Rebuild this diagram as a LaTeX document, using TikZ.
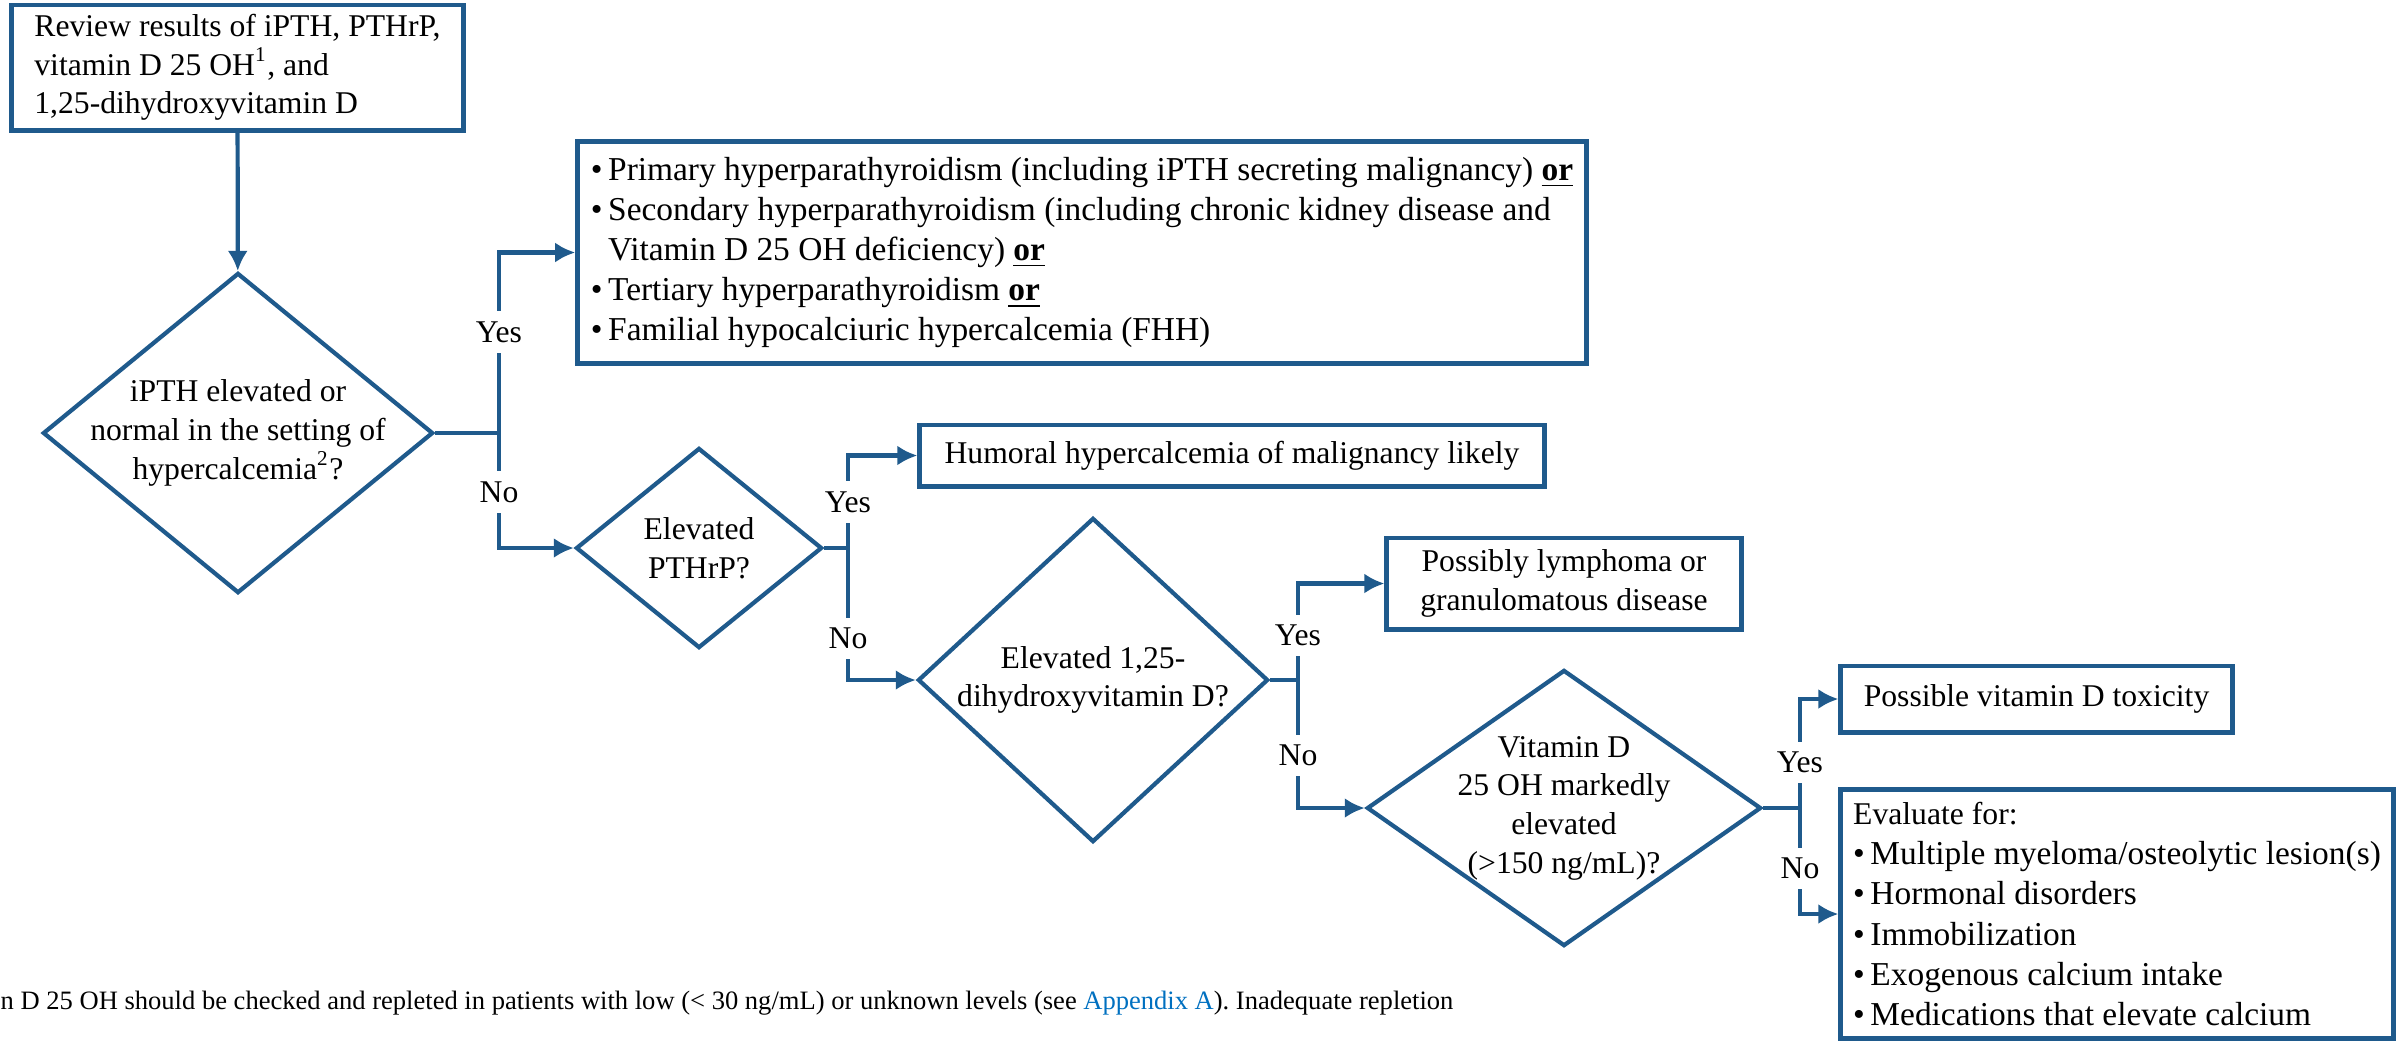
\documentclass[tikz,border=0pt]{standalone}
\usepackage{fontspec}
\setmainfont{Liberation Serif}
\usetikzlibrary{shapes.geometric,arrows.meta}
\definecolor{flowblue}{RGB}{31,90,140}
\definecolor{linkblue}{RGB}{0,112,192}
\newcommand{\uor}{\underline{\textbf{or}}}
\newcommand{\bul}{\textbullet\,}

\begin{document}
\begin{tikzpicture}[x=0.01cm,y=-0.01cm,
    txt/.style={font=\fontsize{9}{11}\selectfont},
    listtxt/.style={font=\fontsize{9.5}{11.4}\selectfont},
    box/.style={txt,draw=flowblue,line width=1.4pt,rectangle,inner sep=0pt},
    query/.style={txt,draw=flowblue,line width=1.2pt,diamond,inner sep=-0.5cm,align=center},
    answer/.style={txt,fill=white,inner sep=0.1cm},
    note/.style={font=\fontsize{7.55}{9.2}\selectfont,inner sep=0pt},
    link/.style={draw=flowblue,line width=1.2pt,-{Latex[length=0.2cm,width=0.2cm]}},
    branch/.style={draw=flowblue,line width=1.2pt}]
  \useasboundingbox (0,0) rectangle (2400,1041);

  \node[box,minimum width=4.51cm,minimum height=1.25cm,align=left] (review) at (237.5,67.5)
    {Review results of iPTH, PTHrP,\\vitamin D 25 OH\textsuperscript{1}, and\\1,25-dihydroxyvitamin D};

  % questions
  \node[query,minimum width=3.9cm,minimum height=3.2cm] (q1) at (238,433)
    {iPTH elevated or\\normal in the setting of\\hypercalcemia\textsuperscript{2}?};
  \node[query,minimum width=2.46cm,minimum height=2cm] (q2) at (699,548)
    {Elevated\\PTHrP?};
  \node[query,minimum width=3.5cm,minimum height=3.24cm] (q3) at (1093,680)
    {Elevated 1,25-\\dihydroxyvitamin D?};
  \node[query,minimum width=3.94cm,minimum height=2.76cm] (q4) at (1564,808)
    {Vitamin D\\25 OH markedly\\elevated\\(>150 ng/mL)?};

  % outcomes
  \node[box,listtxt,minimum width=10.08cm,minimum height=2.21cm,align=left] (res1) at (1082,252.5)
    {\bul Primary hyperparathyroidism (including iPTH secreting malignancy) \uor\\
     \bul Secondary hyperparathyroidism (including chronic kidney disease and\\
     \phantom{\bul}Vitamin D 25 OH deficiency) \uor\\
     \bul Tertiary hyperparathyroidism \uor\\
     \bul Familial hypocalciuric hypercalcemia (FHH)};
  \node[box,minimum width=6.24cm,minimum height=0.61cm] (res2) at (1232,455.5)
    {Humoral hypercalcemia of malignancy likely};
  \node[box,minimum width=3.54cm,minimum height=0.91cm,align=center] (res3) at (1564,583.5)
    {Possibly lymphoma or\\granulomatous disease};
  \node[box,minimum width=3.91cm,minimum height=0.66cm] (res4) at (2036.5,699)
    {Possible vitamin D toxicity};
  \node[box,listtxt,minimum width=5.52cm,minimum height=2.48cm,align=left] (workup) at (2117,914)
    {{\fontsize{9}{11.4}\selectfont Evaluate for:}\\
     \bul Multiple myeloma/osteolytic lesion(s)\\
     \bul Hormonal disorders\\
     \bul Immobilization\\
     \bul Exogenous calcium intake\\
     \bul Medications that elevate calcium};

  \node[note,anchor=west] (note) at (0,1003)
    {n D 25 OH should be checked and repleted in patients with low (< 30 ng/mL) or unknown levels (see \textcolor{linkblue}{Appendix A}). Inadequate repletion};

  \coordinate (j1) at (499,433);
  \coordinate (j2) at (848,548);
  \coordinate (j3) at (1298,680);
  \coordinate (j4) at (1800,808);

  \draw[link] (review) -- (q1);
  \draw[branch] (q1) -- (j1);
  \draw[link] (j1) |- (res1);
  \draw[link] (j1) |- (q2);
  \draw[branch] (q2) -- (j2);
  \draw[link] (j2) |- (res2);
  \draw[link] (j2) |- (q3);
  \draw[branch] (q3) -- (j3);
  \draw[link] (j3) |- (res3);
  \draw[link] (j3) |- (q4);
  \draw[branch] (q4) -- (j4);
  \draw[link] (j4) |- (res4);
  \draw[link] (j4) |- (workup);

  \node[answer] (yes1) at (499,332) {Yes};
  \node[answer] (no1) at (499,492) {No};
  \node[answer] (yes2) at (848,502) {Yes};
  \node[answer] (no2) at (848,638) {No};
  \node[answer] (yes3) at (1298,635) {Yes};
  \node[answer] (no3) at (1298,755) {No};
  \node[answer] (yes4) at (1800,762) {Yes};
  \node[answer] (no4) at (1800,868) {No};
\end{tikzpicture}
\end{document}
